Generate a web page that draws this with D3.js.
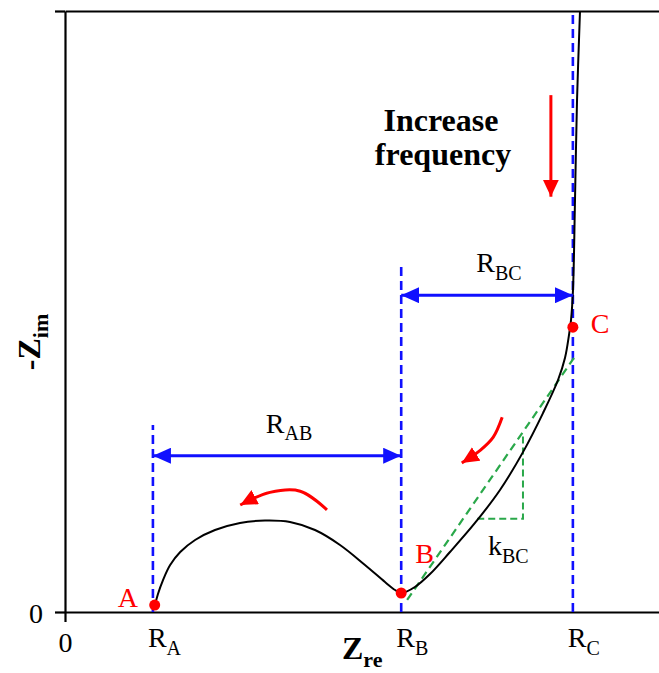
<!DOCTYPE html>
<html>
<head>
<meta charset="utf-8">
<script src="https://cdn.jsdelivr.net/npm/d3@7/dist/d3.min.js"></script>
<style>
  html, body { margin: 0; padding: 0; background: #fff; }
  svg { display: block; }
  text { font-family: "Liberation Serif", "Tinos", "Times New Roman", "DejaVu Serif", serif; }
</style>
</head>
<body>
<div id="chart"></div>
<script>
// ---------- data (arbitrary units, schematic Nyquist plot) ----------
const curveX = [15.15, 15.65, 16.5, 17.7, 19.4, 21.9, 25.25, 29.46, 33.67, 37.88, 42.09, 46.3, 50.5, 53.87, 55.56, 56.73,
                58.9, 61.45, 64.81, 69.02, 73.23, 77.1, 80.47, 83.0, 84.18, 84.85, 85.19, 85.52, 85.86, 86.2, 86.7];
const curveY = [1.16, 3.0, 5.32, 7.82, 9.98, 11.98, 13.64, 14.81, 15.22, 14.98, 13.64, 11.15, 7.82, 4.99, 3.66, 3.16,
                4.16, 6.32, 9.98, 14.81, 20.3, 26.6, 33.1, 38.6, 42.3, 46.1, 48.6, 53.6, 68.6, 85.2, 100];

const pointNames = ["A", "B", "C"];
const pointX = [15.1, 56.6, 85.5];
const pointY = [1.16, 3.16, 47.4];

const tickNames = ["A", "B", "C"];          // R_A, R_B, R_C
const tickValues = [14.8, 56.6, 85.5];
const dashTop = [31.1, 57.7, 100];           // height of blue dashed guides

const spanNames = ["AB", "BC"];
const spanFrom = [14.8, 56.6];
const spanTo = [56.6, 85.5];
const spanY = [26.0, 52.7];

const slopeLineX = [57.6, 85.7];
const slopeLineY = [2.0, 42.3];
const slopeTriX = [69.4, 77.1, 77.1];
const slopeTriY = [15.5, 15.5, 29.3];

const arrow1X = [44.1, 39.6, 34.5, 29.5];
const arrow1Y = [17.0, 20.1, 19.9, 17.8];
const arrow2X = [73.6, 72.1, 69.9, 66.8];
const arrow2Y = [32.4, 29.1, 26.9, 24.8];
const arrow3X = [81.8, 81.8];
const arrow3Y = [86.0, 69.1];

// ---------- setup ----------
const W = 659, H = 673;
const BLUE = "#1010ff", RED = "#ff0000", GREEN = "#2aa84a";
const FONT = '"Liberation Serif", "Tinos", "Times New Roman", "DejaVu Serif", serif';
const x = d3.scaleLinear().domain([0, 100]).range([65, 659]);
const y = d3.scaleLinear().domain([0, 100]).range([612, 11]);

const svg = d3.select("#chart").append("svg").attr("width", W).attr("height", H);
const defs = svg.append("defs");
function marker(id, color, len, wid) {
  defs.append("marker").attr("id", id)
    .attr("viewBox", `0 0 ${len} ${wid}`)
    .attr("refX", len).attr("refY", wid / 2)
    .attr("markerWidth", len).attr("markerHeight", wid)
    .attr("markerUnits", "userSpaceOnUse")
    .attr("orient", "auto-start-reverse")
    .append("path").attr("d", `M0,0L${len},${wid / 2}L0,${wid}Z`).attr("fill", color);
}
marker("blueHead", BLUE, 18, 16);
marker("redHead", RED, 17, 16);

// ---------- axes ----------
const xAxis = d3.axisBottom(x).tickValues([0]).tickSize(10).tickSizeOuter(0).tickPadding(8);
const yAxis = d3.axisLeft(y).tickValues([0, 100]).tickSize(10).tickSizeOuter(0).tickPadding(12)
  .tickFormat(d => d === 0 ? "0" : "");
const gx = svg.append("g").attr("transform", `translate(0,${y(0)})`).call(xAxis);
const gy = svg.append("g").attr("transform", `translate(${x(0)},0)`).call(yAxis);
[gx, gy].forEach(g => {
  g.attr("font-family", FONT);
  g.selectAll("path, line").attr("stroke", "#000").attr("stroke-width", 2.2);
  g.selectAll("text").attr("font-size", 28).attr("fill", "#000").attr("font-family", FONT);
});
gx.selectAll(".tick text").attr("dy", "0.78em");
gy.selectAll(".tick text").attr("dy", "0.36em");
// top frame
const gt = svg.append("g").attr("transform", `translate(0,${y(100)})`)
  .call(d3.axisTop(x).tickValues([]).tickSizeOuter(0));
gt.select("path").attr("stroke", "#000").attr("stroke-width", 2.2);

// ---------- blue dashed guides ----------
svg.append("g").selectAll("line").data(tickValues).join("line")
  .attr("x1", d => x(d)).attr("x2", d => x(d))
  .attr("y1", y(0)).attr("y2", (d, i) => y(dashTop[i]))
  .attr("stroke", BLUE).attr("stroke-width", 2.6).attr("stroke-dasharray", "9,5");

// ---------- green slope ----------
svg.append("line")
  .attr("x1", x(slopeLineX[0])).attr("y1", y(slopeLineY[0]))
  .attr("x2", x(slopeLineX[1])).attr("y2", y(slopeLineY[1]))
  .attr("stroke", GREEN).attr("stroke-width", 2.2).attr("stroke-dasharray", "8,5");
svg.append("path")
  .attr("d", d3.line().x(d => x(d[0])).y(d => y(d[1]))(slopeTriX.map((v, i) => [v, slopeTriY[i]])))
  .attr("fill", "none").attr("stroke", GREEN).attr("stroke-width", 2).attr("stroke-dasharray", "7,4");

// ---------- impedance curve ----------
svg.append("path")
  .attr("d", d3.line().x(d => x(d[0])).y(d => y(d[1])).curve(d3.curveCatmullRom.alpha(0.5))
    (curveX.map((v, i) => [v, curveY[i]])))
  .attr("fill", "none").attr("stroke", "#000").attr("stroke-width", 2);

// ---------- span arrows ----------
svg.append("g").selectAll("line").data(spanNames).join("line")
  .attr("x1", (d, i) => x(spanFrom[i])).attr("x2", (d, i) => x(spanTo[i]))
  .attr("y1", (d, i) => y(spanY[i])).attr("y2", (d, i) => y(spanY[i]))
  .attr("stroke", BLUE).attr("stroke-width", 3)
  .attr("marker-start", "url(#blueHead)").attr("marker-end", "url(#blueHead)");

function subText(g, base, sub, px, py, size, subSize, anchor, color, bold) {
  const t = g.append("text").attr("x", px).attr("y", py).attr("font-size", size)
    .attr("font-family", FONT).attr("text-anchor", anchor).attr("fill", color);
  if (bold) t.attr("font-weight", "bold");
  t.append("tspan").text(base);
  t.append("tspan").attr("font-size", subSize).attr("dy", subSize * 0.38).text(sub);
  return t;
}
spanNames.forEach((n, i) => {
  subText(svg, "R", n, (x(spanFrom[i]) + x(spanTo[i])) / 2 + 12, y(spanY[i]) - 23, 28, 20, "middle", "#000");
});

// ---------- tick labels R_A R_B R_C ----------
tickNames.forEach((n, i) => {
  subText(svg, "R", n, x(tickValues[i]) - 5, 647, 28, 20, "start", "#000");
});
// axis titles
subText(svg, "Z", "re", 342, 659, 32, 22, "start", "#000", true);
const yt = subText(svg, "-Z", "im", 0, 0, 32, 22, "middle", "#000", true);
yt.attr("transform", "translate(40,342) rotate(-90)");

// ---------- red points & labels ----------
svg.append("g").selectAll("circle").data(pointNames).join("circle")
  .attr("cx", (d, i) => x(pointX[i])).attr("cy", (d, i) => y(pointY[i])).attr("r", 5.5)
  .attr("fill", RED);
const labelDX = [-37, 14, 18], labelDY = [2, -30, 6];
svg.append("g").selectAll("text").data(pointNames).join("text")
  .attr("x", (d, i) => x(pointX[i]) + labelDX[i]).attr("y", (d, i) => y(pointY[i]) + labelDY[i])
  .attr("font-size", 28).attr("font-family", FONT).attr("fill", RED).attr("text-anchor", "start").text(d => d);

// k_BC
subText(svg, "k", "BC", 488, 555, 28, 20, "start", "#000");

// ---------- red frequency arrows ----------
[[arrow1X, arrow1Y], [arrow2X, arrow2Y], [arrow3X, arrow3Y]].forEach(([ax, ay]) => {
  svg.append("path")
    .attr("d", d3.line().x(d => x(d[0])).y(d => y(d[1])).curve(d3.curveCatmullRom)(ax.map((v, i) => [v, ay[i]])))
    .attr("fill", "none").attr("stroke", RED).attr("stroke-width", 3)
    .attr("marker-end", "url(#redHead)");
});

// Increase frequency
const inc = svg.append("text").attr("x", 441).attr("font-size", 32).attr("font-family", FONT)
  .attr("font-weight", "bold").attr("text-anchor", "middle").attr("fill", "#000");
inc.append("tspan").attr("x", 441).attr("y", 131).text("Increase");
inc.append("tspan").attr("x", 443).attr("y", 165).text("frequency");
</script>
</body>
</html>
